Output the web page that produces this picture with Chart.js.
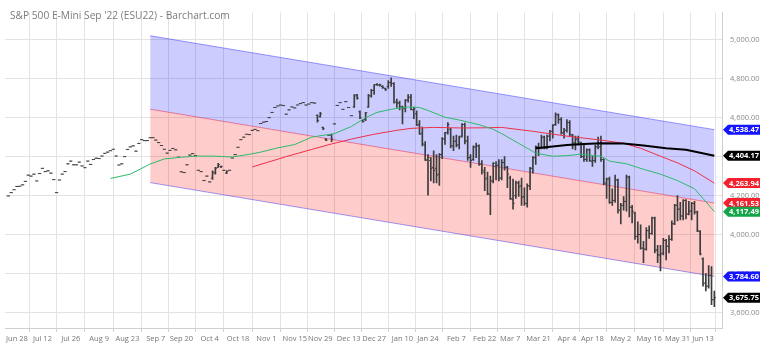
<!DOCTYPE html>
<html>
<head>
<meta charset="utf-8">
<script src="https://cdn.jsdelivr.net/npm/chart.js@4.4.0/dist/chart.umd.min.js"></script>
<style>
  html, body { margin: 0; padding: 0; background: #fff; }
</style>
</head>
<body>
<canvas id="chart" width="773" height="351"></canvas>
<script>
// ESU22 daily bars, index 0 = Jun 23 2021 ... 249 = Jun 17 2022
const opens = [
  4198,4215,4230,4247,4248,4255,4273,4305,4300,4310,
  4275,4313,4340,4323,4327,4315,4282,4215,4280,4310,
  4323,4363,4377,4358,4358,4372,4352,4343,4377,4360,
  4385,4392,4390,4403,4417,4423,4430,4438,4403,4357,
  4363,4400,4437,4450,4455,4428,4468,4487,4482,4482,
  4497,4497,4485,4472,4457,4438,4418,4432,4442,4435,
  4397,4322,4318,4358,4408,4415,4405,4330,4323,4277,
  4300,4270,4290,4315,4345,4350,4330,4315,4330,4393,
  4410,4448,4487,4500,4515,4513,4535,4540,4533,4570,
  4577,4580,4600,4627,4652,4660,4665,4662,4618,4640,
  4655,4650,4665,4672,4677,4665,4670,4677,4675,4612,
  4605,4550,4490,4510,4512,4568,4663,4677,4643,4682,
  4652,4610,4655,4718,4630,4585,4590,4655,4712,4740,
  4770,4768,4760,4750,4760,4780,4775,4680,4675,4655,
  4650,4690,4705,4640,4620,4565,4520,4460,4385,4380,
  4345,4340,4310,4410,4490,4525,4540,4455,4480,4460,
  4505,4565,4480,4395,4385,4450,4455,4362,4320,4290,
  4205,4275,4350,4355,4290,4370,4345,4290,4180,4200,
  4265,4250,4195,4160,4250,4340,4395,4450,4445,4500,
  4445,4505,4530,4565,4615,4590,4525,4535,4575,4510,
  4470,4490,4470,4400,4385,4435,4375,4380,4450,4450,
  4385,4260,4285,4165,4175,4280,4125,4150,4170,4295,
  4140,4110,3990,4000,3930,3925,4020,4005,4085,3920,
  3895,3905,3970,3940,3975,4055,4150,4130,4095,4175,
  4105,4120,4160,4115,4015,3875,3750,3735,3790,3665
];
const highs = [
  4198,4215,4230,4247,4248,4255,4273,4305,4300,4310,
  4275,4313,4340,4323,4327,4315,4282,4215,4280,4310,
  4323,4363,4377,4358,4358,4372,4352,4343,4377,4360,
  4385,4392,4390,4403,4417,4423,4430,4438,4403,4357,
  4363,4400,4437,4450,4455,4428,4468,4487,4482,4482,
  4497,4497,4485,4472,4457,4438,4418,4432,4442,4435,
  4397,4322,4318,4358,4408,4415,4405,4330,4323,4277,
  4300,4270,4327,4345,4365,4352,4330,4327,4330,4393,
  4410,4448,4487,4500,4515,4513,4535,4540,4533,4570,
  4577,4580,4600,4627,4652,4660,4665,4662,4618,4640,
  4655,4650,4665,4672,4677,4665,4670,4677,4675,4615,
  4627,4552,4492,4510,4515,4568,4663,4677,4643,4682,
  4652,4610,4718,4720,4635,4590,4627,4720,4745,4770,
  4775,4772,4765,4752,4790,4805,4780,4695,4685,4660,
  4693,4718,4720,4655,4635,4585,4552,4477,4410,4395,
  4430,4410,4415,4498,4525,4575,4545,4505,4510,4505,
  4570,4572,4505,4410,4455,4470,4460,4380,4345,4320,
  4300,4370,4375,4385,4385,4400,4350,4300,4285,4275,
  4275,4290,4240,4260,4345,4400,4455,4470,4510,4505,
  4510,4535,4565,4625,4620,4600,4545,4590,4585,4515,
  4505,4505,4475,4460,4440,4440,4400,4460,4500,4505,
  4390,4290,4295,4235,4305,4285,4160,4195,4305,4300,
  4150,4115,4065,4050,3965,4035,4045,4090,4090,3945,
  3945,3980,3975,3995,4070,4155,4200,4165,4180,4180,
  4170,4165,4170,4120,4020,3880,3800,3840,3835,3710
];
const lows = [
  4198,4215,4230,4247,4248,4255,4273,4305,4300,4310,
  4275,4313,4340,4323,4327,4315,4282,4215,4280,4310,
  4323,4363,4377,4358,4358,4372,4352,4343,4377,4360,
  4385,4392,4390,4403,4417,4423,4430,4438,4403,4357,
  4363,4400,4437,4450,4455,4428,4468,4487,4482,4482,
  4497,4497,4485,4472,4457,4438,4418,4432,4442,4435,
  4397,4322,4318,4358,4408,4415,4405,4330,4323,4277,
  4300,4270,4283,4310,4345,4343,4330,4313,4330,4393,
  4410,4448,4487,4500,4515,4513,4535,4540,4533,4570,
  4577,4580,4600,4627,4652,4660,4665,4662,4618,4640,
  4655,4650,4665,4672,4677,4665,4670,4677,4675,4577,
  4602,4538,4482,4510,4477,4568,4663,4677,4643,4682,
  4652,4610,4652,4695,4595,4577,4585,4652,4705,4720,
  4765,4762,4750,4740,4750,4760,4675,4652,4640,4568,
  4630,4680,4640,4595,4560,4515,4455,4380,4202,4275,
  4265,4265,4252,4390,4462,4515,4445,4430,4450,4440,
  4500,4465,4380,4345,4380,4395,4355,4310,4225,4205,
  4102,4265,4280,4275,4280,4330,4240,4180,4130,4185,
  4195,4150,4150,4140,4230,4315,4360,4405,4440,4440,
  4440,4480,4495,4560,4570,4515,4495,4525,4505,4440,
  4435,4460,4395,4375,4375,4375,4350,4370,4440,4375,
  4255,4185,4160,4150,4165,4110,4055,4125,4120,4090,
  4060,3975,3955,3925,3855,3920,3980,4000,3905,3855,
  3813,3895,3870,3905,3970,4050,4070,4075,4075,4080,
  4100,4075,4105,4015,3895,3735,3710,3725,3640,3630
];
const closes = [
  4198,4215,4230,4247,4248,4255,4273,4305,4300,4310,
  4275,4313,4340,4323,4327,4315,4282,4215,4280,4310,
  4323,4363,4377,4358,4358,4372,4352,4343,4377,4360,
  4385,4392,4390,4403,4417,4423,4430,4438,4403,4357,
  4363,4400,4437,4450,4455,4428,4468,4487,4482,4482,
  4497,4497,4485,4472,4457,4438,4418,4432,4442,4435,
  4397,4322,4318,4358,4408,4415,4405,4330,4323,4277,
  4300,4270,4320,4340,4360,4350,4330,4325,4330,4393,
  4410,4448,4487,4500,4515,4513,4535,4540,4533,4570,
  4577,4580,4600,4627,4652,4660,4665,4662,4618,4640,
  4655,4650,4665,4672,4677,4665,4670,4677,4675,4585,
  4620,4543,4485,4510,4490,4568,4663,4677,4643,4682,
  4652,4610,4712,4700,4600,4580,4625,4712,4740,4768,
  4768,4768,4755,4743,4780,4775,4680,4675,4655,4650,
  4690,4705,4642,4645,4560,4515,4465,4380,4395,4340,
  4330,4305,4410,4492,4522,4565,4455,4478,4460,4500,
  4565,4480,4395,4380,4450,4455,4362,4330,4285,4210,
  4275,4365,4355,4290,4370,4345,4310,4185,4160,4265,
  4245,4190,4160,4250,4340,4395,4450,4445,4500,4445,
  4505,4530,4560,4615,4590,4520,4535,4575,4515,4470,
  4490,4475,4400,4385,4435,4380,4380,4450,4450,4385,
  4265,4285,4165,4175,4280,4125,4150,4170,4295,4140,
  4120,3990,4000,3930,3925,4020,4005,4085,3920,3895,
  3900,3970,3940,3975,4055,4150,4130,4095,4175,4105,
  4120,4160,4115,4020,3900,3750,3735,3790,3665,3675.75
];

// moving averages (bar index -> value)
const ma50Idx = [36,43,50,55,61,67,73,79,85,89,95,101,107,109,115,121,126,130,135,141,145,148,154,160,167,171,174,180,186,192,197,202,205,209,212,218,224,230,236,242,245,249];
const ma50 = [4288,4310,4362,4388,4397,4403,4402,4398,4412,4423,4445,4462,4500,4505,4518,4555,4600,4627,4643,4655,4652,4637,4602,4585,4560,4540,4518,4468,4418,4402,4405,4413,4407,4402,4377,4363,4335,4310,4277,4235,4185,4117.49];
const ma100Idx = [86,98,107,114,121,129,137,142,150,160,168,174,185,197,209,217,223,230,236,242,249];
const ma100 = [4347,4400,4437,4465,4490,4515,4535,4545,4550,4547,4548,4550,4530,4505,4485,4468,4443,4402,4368,4327,4263.94];
const ma200Idx = [186,192,197,203,209,217,224,232,239,249];
const ma200 = [4443,4452,4460,4465,4468,4467,4457,4443,4435,4404.17];

// 200-bar regression channel
const chanIdx = [50, 249];
const chanUpper = [5020.41, 4538.47];
const chanMid = [4643.47, 4161.53];
const chanLower = [4266.54, 3784.60];

// axes
const tickIdx = [3,12,22,32,42,52,61,71,81,91,101,110,120,129,139,148,158,168,177,187,197,206,216,226,236,245];
const tickLabels = ['Jun 28','Jul 12','Jul 26','Aug 9','Aug 23','Sep 7','Sep 20','Oct 4','Oct 18','Nov 1','Nov 15','Nov 29','Dec 13','Dec 27','Jan 10','Jan 24','Feb 7','Feb 22','Mar 7','Mar 21','Apr 4','Apr 18','May 2','May 16','May 31','Jun 13'];
const yTicks = [3600,3800,4000,4200,4400,4600,4800,5000];

// right-hand value tags
const tagValues = [4538.47, 4404.17, 4263.94, 4161.53, 4117.49, 3784.60, 3675.75];
const tagColors = ['#1414ff', '#000000', '#f5202e', '#f5202e', '#12a54a', '#1414ff', '#000000'];

const titleText = "S&P 500 E-Mini Sep '22 (ESU22) - Barchart.com";

Chart.defaults.font.family = "'Open Sans', sans-serif";

const fmt = v => v.toLocaleString('en-US', { minimumFractionDigits: 2, maximumFractionDigits: 2 });
const pts = (xs, ys) => xs.map((x, k) => ({ x, y: ys[k] }));
const barColor = '#3c3c3c';
const tickOff = 0.3;

const decorPlugin = {
    id: 'decor',
    afterDraw(chart) {
        const ctx = chart.ctx;
        const y = chart.scales.y;
        ctx.save();
        // title
        ctx.font = "10.2px 'Open Sans', sans-serif";
        ctx.fillStyle = '#7c7c7c';
        ctx.textBaseline = 'middle';
        ctx.textAlign = 'left';
        ctx.fillText(titleText, 10, 16);

        // tags
        const x0 = chart.chartArea.right + 1;
        ctx.font = "bold 7.5px 'Open Sans', sans-serif";
        tagValues.forEach((v, i) => {
            const py = y.getPixelForValue(v);
            ctx.beginPath();
            ctx.moveTo(x0, py);
            ctx.lineTo(x0 + 5, py - 5);
            ctx.lineTo(x0 + 37, py - 5);
            ctx.lineTo(x0 + 37, py + 5);
            ctx.lineTo(x0 + 5, py + 5);
            ctx.closePath();
            ctx.fillStyle = tagColors[i];
            ctx.fill();
            ctx.fillStyle = '#fff';
            ctx.textAlign = 'center';
            ctx.fillText(fmt(v), x0 + 21, py + 0.5);
        });
        ctx.restore();
    }
};

new Chart(document.getElementById('chart').getContext('2d'), {
    type: 'bar',
    data: {
        datasets: [
            {
                type: 'line', data: pts(chanIdx, chanUpper),
                borderColor: 'rgba(70,70,255,0.55)', borderWidth: 1,
                backgroundColor: 'rgba(0,0,255,0.2)', fill: '+1',
                pointRadius: 0, order: 10
            },
            {
                type: 'line', data: pts(chanIdx, chanMid),
                borderColor: 'rgba(255,50,70,0.55)', borderWidth: 1,
                backgroundColor: 'rgba(255,0,0,0.2)', fill: '+1',
                pointRadius: 0, order: 10
            },
            {
                type: 'line', data: pts(chanIdx, chanLower),
                borderColor: 'rgba(70,70,255,0.55)', borderWidth: 1,
                fill: false, pointRadius: 0, order: 10
            },
            {
                type: 'bar',
                data: closes.map((_, i) => ({ x: i, y: [lows[i], highs[i]] })),
                backgroundColor: barColor, barThickness: 1, order: 5
            },
            {
                type: 'scatter',
                data: opens.map((v, i) => ({ x: i - tickOff, y: v })),
                pointStyle: 'line', pointRadius: 0.8, borderWidth: 1,
                borderColor: barColor, order: 4
            },
            {
                type: 'scatter',
                data: closes.map((v, i) => ({ x: i + tickOff, y: v })),
                pointStyle: 'line', pointRadius: 0.8, borderWidth: 1,
                borderColor: barColor, order: 4
            },
            {
                type: 'line', data: pts(ma50Idx, ma50),
                borderColor: '#2fb86a', borderWidth: 1, pointRadius: 0, fill: false, order: 2
            },
            {
                type: 'line', data: pts(ma100Idx, ma100),
                borderColor: '#ec3048', borderWidth: 1, pointRadius: 0, fill: false, order: 2
            },
            {
                type: 'line', data: pts(ma200Idx, ma200),
                borderColor: '#000', borderWidth: 2, pointRadius: 0, fill: false, order: 1
            }
        ]
    },
    options: {
        responsive: false,
        animation: false,
        events: [],
        layout: { padding: { top: 4, left: 2, right: 0, bottom: 0 } },
        scales: {
            x: {
                type: 'linear',
                offset: false,
                min: -1.2,
                max: 251.7,
                afterBuildTicks(axis) { axis.ticks = tickIdx.map(v => ({ value: v })); },
                afterFit(axis) { axis.height = 23; },
                ticks: {
                    autoSkip: false, maxRotation: 0, padding: 2,
                    color: '#777', font: { size: 7.5 },
                    callback: v => tickLabels[tickIdx.indexOf(v)]
                },
                grid: { color: '#e3e3e3', tickLength: 4, tickColor: '#cfcfcf' },
                border: { color: '#cfcfcf' }
            },
            y: {
                position: 'right',
                min: 3520,
                max: 5140,
                afterBuildTicks(axis) { axis.ticks = yTicks.map(v => ({ value: v })); },
                afterFit(axis) { axis.width = 51; },
                ticks: { color: '#8a8a8a', font: { size: 7.5 }, padding: 8, callback: v => fmt(v) },
                grid: { color: '#e3e3e3', drawTicks: false },
                border: { color: '#cfcfcf' }
            }
        },
        plugins: {
            legend: { display: false },
            tooltip: { enabled: false }
        }
    },
    plugins: [decorPlugin]
});
</script>
</body>
</html>
